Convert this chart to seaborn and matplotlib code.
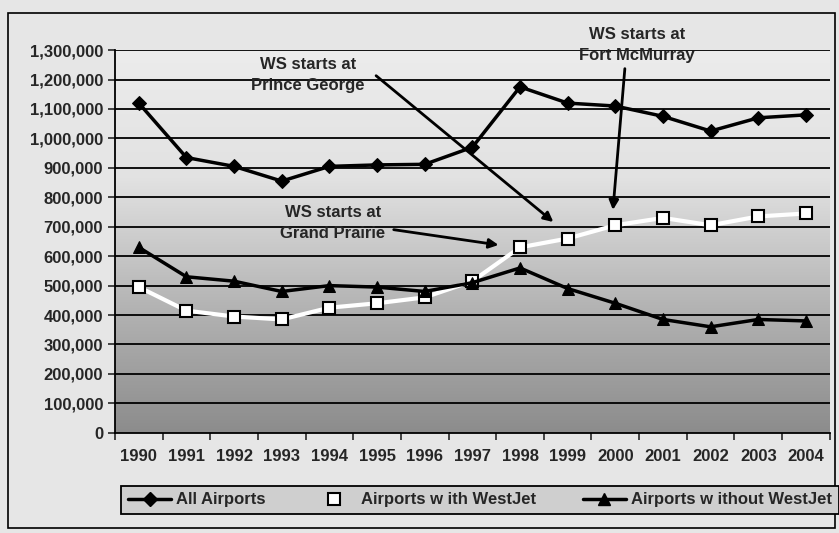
import numpy as np
import pandas as pd
import seaborn as sns
import matplotlib.pyplot as plt
from matplotlib.ticker import FuncFormatter, MultipleLocator
from matplotlib.patches import Rectangle
from matplotlib.lines import Line2D

# --- data ---
years = list(range(1990, 2005))
all_airports = [1120000, 935000, 905000, 855000, 905000, 910000, 912000, 970000,
                1175000, 1120000, 1110000, 1075000, 1025000, 1070000, 1080000]
with_westjet = [495000, 415000, 395000, 385000, 425000, 440000, 460000, 515000,
                630000, 660000, 705000, 730000, 705000, 735000, 745000]
without_westjet = [630000, 530000, 515000, 480000, 500000, 495000, 480000, 510000,
                   560000, 490000, 440000, 385000, 360000, 385000, 380000]
labels = ["All Airports", "Airports w ith WestJet", "Airports w ithout WestJet"]

df = pd.DataFrame({"year": years, labels[0]: all_airports,
                   labels[1]: with_westjet, labels[2]: without_westjet})

sns.set_style("white")
plt.rcParams["font.family"] = ["Liberation Sans", "DejaVu Sans"]
plt.rcParams["font.weight"] = "bold"

fig = plt.figure(figsize=(8.39, 5.33), dpi=100, facecolor="#e6e6e6")
ax = fig.add_axes([0.137, 0.188, 0.852, 0.718])

# gradient background of the plot area
grad = np.linspace(0, 1, 256).reshape(-1, 1)
ax.imshow(grad, extent=[0, 1, 0, 1], transform=ax.transAxes, aspect="auto",
          cmap=sns.blend_palette(["#8c8c8c", "#b4b4b4", "#e2e2e2", "#ececec"], as_cmap=True),
          origin="lower", zorder=0)

# horizontal grid lines
for v in range(100000, 1300001, 100000):
    ax.axhline(v, color="black", lw=1.3, zorder=1)

sns.lineplot(data=df, x="year", y=labels[1], ax=ax, color="white", lw=3,
             marker="s", markersize=8, markerfacecolor="white",
             markeredgecolor="black", markeredgewidth=1.5, zorder=3)
sns.lineplot(data=df, x="year", y=labels[0], ax=ax, color="black", lw=2.5,
             marker="D", markersize=7, markeredgecolor="black", zorder=4)
sns.lineplot(data=df, x="year", y=labels[2], ax=ax, color="black", lw=2.5,
             marker="^", markersize=9, markeredgecolor="black", zorder=4)

ax.set_xlim(1989.5, 2004.5)
ax.set_ylim(0, 1300000)
ax.set_xlabel("")
ax.set_ylabel("")
ax.set_xticks(years)
ax.set_xticklabels([str(y) for y in years], fontsize=12, fontweight="bold")
ax.xaxis.set_minor_locator(MultipleLocator(1, offset=0.5))
ax.tick_params(axis="x", which="major", length=0, pad=12)
ax.tick_params(axis="x", which="minor", length=5, width=1.2, direction="out", bottom=True)
ax.yaxis.set_major_locator(MultipleLocator(100000))
ax.yaxis.set_major_formatter(FuncFormatter(lambda v, p: f"{int(v):,}"))
ax.tick_params(axis="y", length=5, width=1.2, direction="out", left=True, labelsize=12)
for t in ax.get_yticklabels():
    t.set_fontweight("bold")
for s in ["top", "right"]:
    ax.spines[s].set_visible(False)
for s in ["left", "bottom"]:
    ax.spines[s].set_color("black")
    ax.spines[s].set_linewidth(1.3)

# annotations
arrow = dict(arrowstyle="-|>", color="black", lw=2, mutation_scale=14, shrinkA=0, shrinkB=0)
ax.text(1993.55, 1215000, "WS starts at\nPrince George", ha="center", va="center",
        fontsize=12, fontweight="bold", linespacing=1.5)
ax.annotate("", xy=(1998.7, 716000), xytext=(1994.98, 1213000), arrowprops=arrow)
ax.text(2000.45, 1317000, "WS starts at\nFort McMurray", ha="center", va="center",
        fontsize=12, fontweight="bold", linespacing=1.5, clip_on=False)
ax.annotate("", xy=(1999.95, 757000), xytext=(2000.2, 1237000), arrowprops=arrow,
            annotation_clip=False)
ax.text(1994.07, 713000, "WS starts at\nGrand Prairie", ha="center", va="center",
        fontsize=12, fontweight="bold", linespacing=1.5)
ax.annotate("", xy=(1997.55, 638000), xytext=(1995.35, 690000), arrowprops=arrow)

# legend (WestJet entry shows only the square marker)
handles = [
    Line2D([], [], color="black", lw=2.5, marker="D", markersize=7),
    Line2D([], [], ls="none", marker="s", markersize=8, markerfacecolor="white",
           markeredgecolor="black", markeredgewidth=1.5),
    Line2D([], [], color="black", lw=2.5, marker="^", markersize=9),
]
leg = fig.legend(handles, labels, ncol=3, loc="lower center",
                 bbox_to_anchor=(0.572, 0.026), frameon=True, fancybox=False,
                 edgecolor="black", facecolor="#cfcfcf",
                 prop={"size": 12, "weight": "bold"}, handlelength=2.6,
                 handletextpad=0.3, columnspacing=2.8, borderpad=0.4, borderaxespad=0.3)
leg.get_frame().set_linewidth(1.3)
leg.get_frame().set_alpha(1)

# outer chart border
fig.patches.append(Rectangle((0.01, 0.01), 0.985, 0.965, transform=fig.transFigure,
                             fill=False, edgecolor="black", lw=1.2))

fig.savefig("out.png", dpi=100, facecolor=fig.get_facecolor())
